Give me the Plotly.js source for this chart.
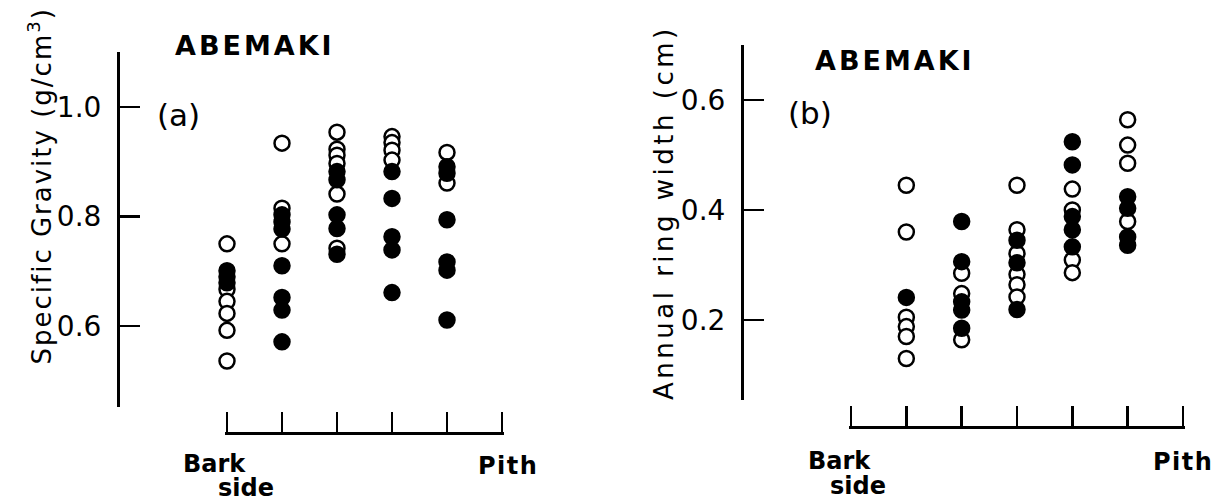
<!DOCTYPE html>
<html>
<head>
<meta charset="utf-8">
<script src="https://cdn.plot.ly/plotly-3.0.1.min.js"></script>
<style>
  html, body { margin: 0; padding: 0; background: #ffffff; }
  #chart { width: 1220px; height: 504px; }
</style>
</head>
<body>
<div id="chart"></div>
<script>
// ---------- Data ----------
// (a) Specific gravity (g/cm3); positions 1..5 from bark side toward pith
const sgOpenPos   = [1,1,1,1,1,1, 2,2,2, 3,3,3,3,3,3, 4,4,4,4, 5,5];
const sgOpenVal   = [0.750,0.667,0.645,0.623,0.592,0.536,
                     0.934,0.815,0.750,
                     0.954,0.923,0.912,0.897,0.841,0.742,
                     0.946,0.935,0.921,0.903,
                     0.917,0.861];
const sgFilledPos = [1,1,1, 2,2,2,2,2,2,2, 3,3,3,3,3, 4,4,4,4,4, 5,5,5,5,5,5];
const sgFilledVal = [0.701,0.690,0.679,
                     0.803,0.790,0.777,0.710,0.652,0.629,0.571,
                     0.882,0.867,0.803,0.778,0.731,
                     0.882,0.833,0.763,0.739,0.661,
                     0.891,0.879,0.794,0.717,0.702,0.611];

// (b) Annual ring width (cm)
const rwOpenPos   = [1,1,1,1,1,1, 2,2,2, 3,3,3,3,3,3, 4,4,4,4, 5,5,5,5];
const rwOpenVal   = [0.445,0.360,0.205,0.188,0.170,0.130,
                     0.285,0.248,0.164,
                     0.445,0.364,0.321,0.283,0.264,0.242,
                     0.438,0.400,0.309,0.286,
                     0.564,0.518,0.485,0.379];
const rwFilledPos = [1, 2,2,2,2,2, 3,3,3, 4,4,4,4,4, 5,5,5,5];
const rwFilledVal = [0.241,
                     0.379,0.306,0.233,0.218,0.185,
                     0.345,0.304,0.219,
                     0.524,0.482,0.388,0.364,0.333,
                     0.424,0.403,0.351,0.336];

const sgTickVals = [0.6, 0.8, 1.0];
const sgTickText = ['0.6', '0.8', '1.0'];
const rwTickVals = [0.2, 0.4, 0.6];
const rwTickText = ['0.2', '0.4', '0.6'];
const sgPosTicks = [1, 2, 3, 4, 5, 6];
const rwPosTicks = [0, 1, 2, 3, 4, 5, 6];

// ---------- Layout helpers ----------
const W = 1220, H = 504;
const px = x => x / W;
const py = y => 1 - y / H;
const FONT = 'DejaVu Sans';

const openMarker   = {symbol: 'circle', size: 15, color: '#ffffff', line: {color: '#000000', width: 2.5}};
const filledMarker = {symbol: 'circle', size: 15, color: '#000000', line: {color: '#000000', width: 2.5}};

const traces = [
  {x: sgOpenPos, y: sgOpenVal, xaxis: 'x', yaxis: 'y', type: 'scatter', mode: 'markers',
   marker: openMarker, cliponaxis: false, hoverinfo: 'skip'},
  {x: sgFilledPos, y: sgFilledVal, xaxis: 'x', yaxis: 'y', type: 'scatter', mode: 'markers',
   marker: filledMarker, cliponaxis: false, hoverinfo: 'skip'},
  {x: rwOpenPos, y: rwOpenVal, xaxis: 'x2', yaxis: 'y2', type: 'scatter', mode: 'markers',
   marker: openMarker, cliponaxis: false, hoverinfo: 'skip'},
  {x: rwFilledPos, y: rwFilledVal, xaxis: 'x2', yaxis: 'y2', type: 'scatter', mode: 'markers',
   marker: filledMarker, cliponaxis: false, hoverinfo: 'skip'}
];

const xCommon = {
  anchor: 'free', showline: true, linecolor: '#000', linewidth: 2.5,
  ticks: 'inside', ticklen: 20, tickwidth: 2.5, tickcolor: '#000',
  showgrid: false, zeroline: false, showticklabels: false, fixedrange: true
};
const yCommon = {
  anchor: 'free', showline: true, linecolor: '#000', linewidth: 2.5,
  ticks: 'inside', ticklen: 20, tickwidth: 2.5, tickcolor: '#000',
  showgrid: false, zeroline: false, fixedrange: true, tickmode: 'array',
  ticklabelstandoff: 10,
  tickfont: {family: FONT, size: 28, color: '#000'}
};

function ann(text, x, y, opts) {
  return Object.assign({
    text: text, x: px(x), y: py(y), xref: 'paper', yref: 'paper',
    showarrow: false, xanchor: 'left', yanchor: 'middle', align: 'left',
    font: {family: FONT, size: 24, color: '#000'}
  }, opts || {});
}

const layout = {
  width: W, height: H,
  margin: {l: 0, r: 0, t: 0, b: 0},
  paper_bgcolor: '#fff', plot_bgcolor: '#fff',
  showlegend: false,
  xaxis: Object.assign({}, xCommon, {
    domain: [px(224.8), px(504.2)], position: py(433), range: [0.96, 6.04],
    tickmode: 'array', tickvals: sgPosTicks
  }),
  yaxis: Object.assign({}, yCommon, {
    domain: [py(407), py(52)], position: px(118), range: [0.452, 1.1005],
    tickvals: sgTickVals, ticktext: sgTickText
  }),
  xaxis2: Object.assign({}, xCommon, {
    domain: [px(848.8), px(1185.2)], position: py(427), range: [-0.04, 6.04],
    tickmode: 'array', tickvals: rwPosTicks
  }),
  yaxis2: Object.assign({}, yCommon, {
    domain: [py(400), py(45)], position: px(742), range: [0.0545, 0.7],
    tickvals: rwTickVals, ticktext: rwTickText
  }),
  annotations: [
    ann('ABEMAKI', 173, 45, {font: {family: FONT, size: 27, color: '#000', weight: 'bold'}}),
    ann('ABEMAKI', 813, 60, {font: {family: FONT, size: 27, color: '#000', weight: 'bold'}}),
    ann('(a)', 155, 115, {font: {family: FONT, size: 31, color: '#000'}}),
    ann('(b)', 786, 113, {font: {family: FONT, size: 31, color: '#000'}}),
    ann('Specific Gravity (g/cm<sup>3</sup>)', 40, 367,
        {textangle: -90, xanchor: 'center', yanchor: 'bottom', font: {family: FONT, size: 26, color: '#000'}}),
    ann('Annual ring width (cm)', 664, 402,
        {textangle: -90, xanchor: 'center', yanchor: 'bottom', font: {family: FONT, size: 26, color: '#000'}}),
    ann('Bark', 181, 464, {font: {family: FONT, size: 24, color: '#000', weight: 'bold'}}),
    ann('side', 216, 488, {font: {family: FONT, size: 24, color: '#000', weight: 'bold'}}),
    ann('Pith', 476, 466, {font: {family: FONT, size: 24, color: '#000', weight: 'bold'}}),
    ann('Bark', 806, 461, {font: {family: FONT, size: 24, color: '#000', weight: 'bold'}}),
    ann('side', 828, 486, {font: {family: FONT, size: 24, color: '#000', weight: 'bold'}}),
    ann('Pith', 1151, 462, {font: {family: FONT, size: 24, color: '#000', weight: 'bold'}})
  ]
};

const spacing = {
  'ABEMAKI': 3,
  'Specific Gravity (g/cm3)': 2,
  'Annual ring width (cm)': 3.5,
  'Pith': 1.5
};

Plotly.newPlot('chart', traces, layout, {staticPlot: true, displayModeBar: false}).then(gd => {
  gd.querySelectorAll('.annotation-text').forEach(t => {
    const key = t.textContent.replace(/\u200b/g, '');
    const s = spacing[key];
    if (s) t.style.letterSpacing = s + 'px';
  });
});
</script>
</body>
</html>
